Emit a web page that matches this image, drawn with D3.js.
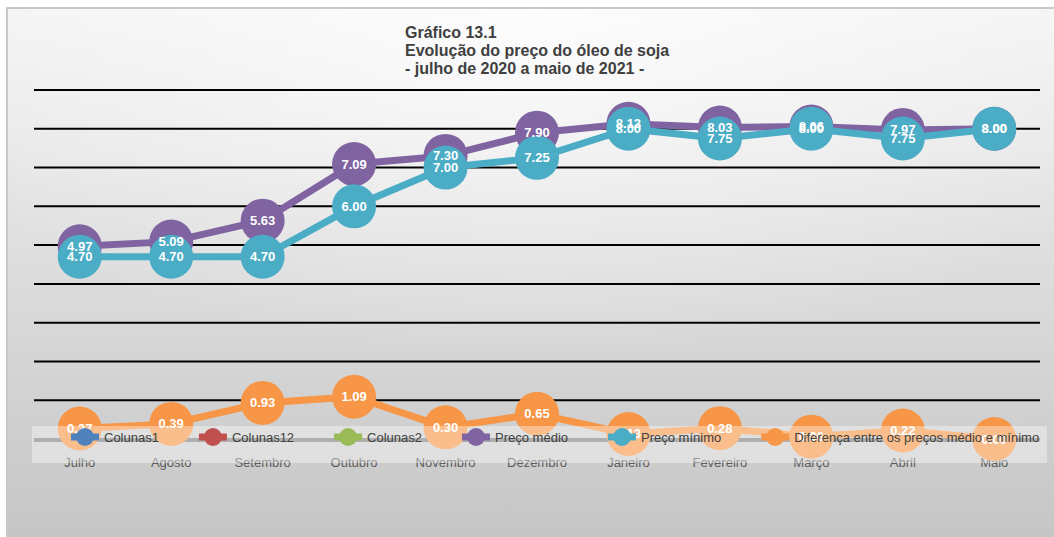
<!DOCTYPE html>
<html lang="pt">
<head>
<meta charset="UTF-8">
<title>Gráfico 13.1</title>
<script src="https://d3js.org/d3.v7.min.js"></script>
<style>
    body { margin: 0; background: #fff; }
    svg { display: block; font-family: "Liberation Sans", Arial, sans-serif; }
</style>
</head>
<body>
<div id="chart"></div>
<script>
// dados
var meses = ["Julho", "Agosto", "Setembro", "Outubro", "Novembro", "Dezembro", "Janeiro", "Fevereiro", "Março", "Abril", "Maio"];
var precoMedio = [4.97, 5.09, 5.63, 7.09, 7.30, 7.90, 8.13, 8.03, 8.06, 7.97, 8.00];
var precoMinimo = [4.70, 4.70, 4.70, 6.00, 7.00, 7.25, 8.00, 7.75, 8.00, 7.75, 8.00];
var diferenca = [0.27, 0.39, 0.93, 1.09, 0.30, 0.65, 0.13, 0.28, 0.06, 0.22, 0.00];
var gridValues = [1, 2, 3, 4, 5, 6, 7, 8, 9];
var legendNames = ["Colunas1", "Colunas12", "Colunas2", "Preço médio", "Preço mínimo", "Diferença entre os preços médio e mínimo"];
var legendColors = ["#4F81BD", "#C0504D", "#9BBB59", "#8064A2", "#4BACC6", "#F79646"];
var titleLines = ["Gráfico 13.1", "Evolução do preço do óleo de soja", "- julho de 2020 a maio de 2021 -"];

var width = 1054, height = 537;
var plot = {left: 34, right: 1040, top: 90, bottom: 439};

var svg = d3.select("#chart").append("svg")
    .attr("width", width)
    .attr("height", height);

var defs = svg.append("defs");
var bg = defs.append("linearGradient").attr("id", "bg").attr("x1", 0).attr("y1", 0).attr("x2", 0).attr("y2", 1);
bg.append("stop").attr("offset", "0%").attr("stop-color", "#f3f3f3");
bg.append("stop").attr("offset", "100%").attr("stop-color", "#c5c5c5");
var glow = defs.append("radialGradient").attr("id", "glow")
    .attr("cx", "50%").attr("cy", "0%").attr("r", "65%");
glow.append("stop").attr("offset", "0%").attr("stop-color", "#fff").attr("stop-opacity", 0.8);
glow.append("stop").attr("offset", "100%").attr("stop-color", "#fff").attr("stop-opacity", 0);

// fundo da área do gráfico
svg.append("rect").attr("x", 7).attr("y", 8).attr("width", width).attr("height", height)
    .attr("fill", "url(#bg)").attr("stroke", "#c8c8c8").attr("stroke-width", 2);
svg.append("rect").attr("x", 8).attr("y", 9).attr("width", width).attr("height", height)
    .attr("fill", "url(#glow)");

// título
svg.append("g").selectAll("text")
    .data(titleLines)
    .enter().append("text")
    .attr("x", 405)
    .attr("y", (d, i) => 38 + i * 18)
    .attr("font-size", 16)
    .attr("font-weight", "bold")
    .attr("fill", "#404040")
    .text(d => d);

var x = d3.scaleBand().domain(meses).range([plot.left, plot.right]);
var y = d3.scaleLinear().domain([0, 9]).range([plot.bottom, plot.top]);
var cx = d => x(d) + x.bandwidth() / 2;

// linhas de grade
svg.append("g").selectAll("line")
    .data(gridValues)
    .enter().append("line")
    .attr("x1", plot.left).attr("x2", plot.right)
    .attr("y1", d => y(d)).attr("y2", d => y(d))
    .attr("stroke", "#000").attr("stroke-width", 2);

// eixo x
svg.append("line")
    .attr("x1", plot.left).attr("x2", plot.right)
    .attr("y1", y(0) + 1).attr("y2", y(0) + 1)
    .attr("stroke", "#7f7f7f").attr("stroke-width", 4);

svg.append("g").selectAll("text")
    .data(meses)
    .enter().append("text")
    .attr("x", d => cx(d))
    .attr("y", y(0) + 28)
    .attr("text-anchor", "middle")
    .attr("font-size", 13)
    .attr("fill", "#595959")
    .text(d => d);

var series = [
    {name: "Preço médio", values: precoMedio, color: legendColors[3]},
    {name: "Preço mínimo", values: precoMinimo, color: legendColors[4]},
    {name: "Diferença", values: diferenca, color: legendColors[5]}
];

var line = d3.line().x((d, i) => cx(meses[i])).y(d => y(d));

series.forEach(function(s) {
    var g = svg.append("g");
    g.append("path")
        .datum(s.values)
        .attr("d", line)
        .attr("fill", "none")
        .attr("stroke", s.color)
        .attr("stroke-width", 7)
        .attr("stroke-linejoin", "round");
    g.selectAll("circle")
        .data(s.values)
        .enter().append("circle")
        .attr("cx", (d, i) => cx(meses[i]))
        .attr("cy", d => y(d))
        .attr("r", 22)
        .attr("fill", s.color);
});

// rótulos de dados
series.forEach(function(s) {
    svg.append("g").selectAll("text")
        .data(s.values)
        .enter().append("text")
        .attr("x", (d, i) => cx(meses[i]))
        .attr("y", d => y(d) + 4.5)
        .attr("text-anchor", "middle")
        .attr("font-size", 13)
        .attr("font-weight", "bold")
        .attr("fill", "#fff")
        .text(d => d.toFixed(2));
});

// legenda
svg.append("rect")
    .attr("x", 32).attr("y", 426)
    .attr("width", 1015).attr("height", 37)
    .attr("fill", "#fff").attr("fill-opacity", 0.38);

var legend = svg.append("g");
var lx = 85, ly = 437;
legendNames.forEach(function(name, i) {
    var item = legend.append("g");
    item.append("line")
        .attr("x1", lx - 14).attr("x2", lx + 14)
        .attr("y1", ly).attr("y2", ly)
        .attr("stroke", legendColors[i]).attr("stroke-width", 7);
    item.append("circle")
        .attr("cx", lx).attr("cy", ly).attr("r", 9)
        .attr("fill", legendColors[i]);
    var t = item.append("text")
        .attr("x", lx + 19)
        .attr("y", ly + 5)
        .attr("font-size", 13)
        .attr("fill", "#404040")
        .text(name);
    lx = lx + 19 + t.node().getComputedTextLength() + 54;
});
</script>
</body>
</html>
